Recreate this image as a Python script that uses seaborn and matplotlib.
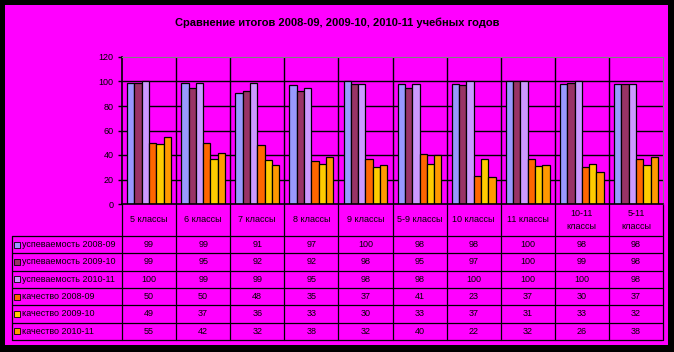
import pandas as pd
import seaborn as sns
import matplotlib.pyplot as plt
from matplotlib.patches import Rectangle

classes = ['5 классы', '6 классы', '7 классы', '8 классы', '9 классы',
           '5-9 классы', '10 классы', '11 классы', '10-11\nклассы', '5-11\nклассы']
series = ['успеваемость 2008-09', 'успеваемость 2009-10', 'успеваемость 2010-11',
          'качество 2008-09', 'качество 2009-10', 'качество 2010-11']

usp_0809 = [99, 99, 91, 97, 100, 98, 98, 100, 98, 98]
usp_0910 = [99, 95, 92, 92, 98, 95, 97, 100, 99, 98]
usp_1011 = [100, 99, 99, 95, 98, 98, 100, 100, 100, 98]
kach_0809 = [50, 50, 48, 35, 37, 41, 23, 37, 30, 37]
kach_0910 = [49, 37, 36, 33, 30, 33, 37, 31, 33, 32]
kach_1011 = [55, 42, 32, 38, 32, 40, 22, 32, 26, 38]
all_vals = [usp_0809, usp_0910, usp_1011, kach_0809, kach_0910, kach_1011]

colors = ['#9999FF', '#993366', '#CC99FF', '#FF6600', '#FFCC00', '#FF9900']
yticks = [0, 20, 40, 60, 80, 100, 120]

df = pd.DataFrame({
    'class': [c for _ in series for c in classes],
    'series': [s for s in series for _ in classes],
    'value': [v for vals in all_vals for v in vals],
})

sns.set_style('white')
plt.rcParams['font.family'] = ['Liberation Sans', 'DejaVu Sans']
plt.rcParams['text.color'] = 'black'
plt.rcParams['ytick.labelcolor'] = 'black'

W, H = 674, 352
fig = plt.figure(figsize=(W / 100, H / 100), dpi=100, facecolor='black')

# pixel-coordinate overlay for the frame and the data table
ov = fig.add_axes([0, 0, 1, 1], zorder=0)
ov.set_xlim(0, W)
ov.set_ylim(H, 0)
ov.axis('off')
ov.add_patch(Rectangle((5, 5), 663, 340, facecolor='#FF00FF', edgecolor='none'))

# plot area in pixels
px0, px1, py0, py1 = 122, 663, 57, 204
ax = fig.add_axes([px0 / W, 1 - py1 / H, (px1 - px0) / W, (py1 - py0) / H], zorder=2)
ax.set_facecolor('#FF00FF')

for y in yticks[1:-1]:
    ax.axhline(y, color='black', lw=1, zorder=0)
for i in range(1, len(classes)):
    ax.axvline(i - 0.5, color='black', lw=1, zorder=0)

sns.barplot(data=df, x='class', y='value', hue='series', order=classes,
            hue_order=series, palette=colors, saturation=1, edgecolor='black',
            linewidth=0.9, width=0.81, gap=0, legend=False, ax=ax, zorder=2)

ax.set_xlim(-0.5, len(classes) - 0.5)
ax.set_ylim(0, 120)
ax.set_yticks(yticks)
ax.set_yticklabels([str(t) for t in yticks], fontsize=6.5, color='black')
ax.tick_params(axis='y', direction='out', length=3, width=1, color='black', pad=3, left=True)
ax.tick_params(axis='x', length=0, labelbottom=False)
ax.set_xlabel('')
ax.set_ylabel('')
for side in ['top', 'right']:
    ax.spines[side].set_color('#808080')
    ax.spines[side].set_linewidth(0.8)
for side in ['left', 'bottom']:
    ax.spines[side].set_color('black')
    ax.spines[side].set_linewidth(1.2)

fig.text(337 / W, 1 - 23 / H, 'Сравнение итогов 2008-09, 2009-10, 2010-11 учебных годов',
         ha='center', va='center', fontsize=8, fontweight='bold', color='black')

# data table
cw = (px1 - px0) / len(classes)
tx0, tx1 = 12, 662
hy0, hy1 = 204, 236
rh = (340 - hy1) / len(series)
lw = 0.9
fs = 6.5

for k in range(len(classes) + 1):
    ov.plot([px0 + k * cw, px0 + k * cw], [hy0, 340], color='black', lw=lw)
ov.plot([tx0, tx0], [hy1, 340], color='black', lw=lw)
for r in range(len(series) + 1):
    y = hy1 + r * rh
    ov.plot([tx0, tx1], [y, y], color='black', lw=lw)

for i, c in enumerate(classes):
    ov.text(px0 + (i + 0.5) * cw, (hy0 + hy1) / 2, c, ha='center', va='center',
            fontsize=fs, linespacing=1.7, color='black')

for r, (s, vals) in enumerate(zip(series, all_vals)):
    yc = hy1 + (r + 0.5) * rh
    ov.add_patch(Rectangle((13.5, yc - 3), 6, 6, facecolor=colors[r],
                           edgecolor='black', lw=0.6))
    ov.text(22, yc, s, ha='left', va='center', fontsize=fs, color='black')
    for i, v in enumerate(vals):
        ov.text(px0 + (i + 0.5) * cw, yc, str(v), ha='center', va='center',
                fontsize=fs, color='black')

fig.savefig('out.png', dpi=100, facecolor='black')
